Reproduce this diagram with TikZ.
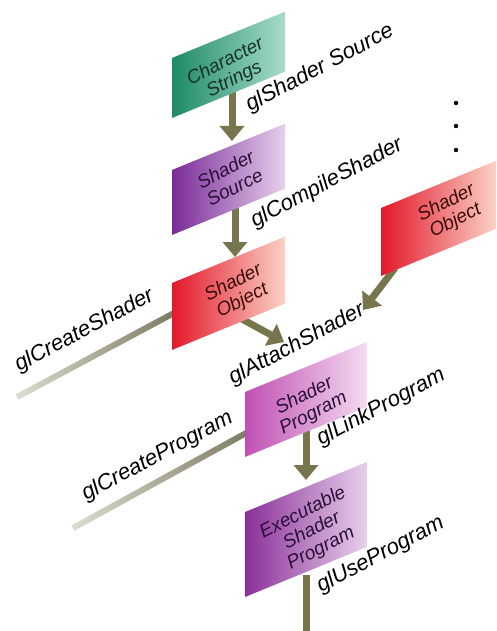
\documentclass[tikz,border=0pt]{standalone}
\usepackage{fontspec}
\setmainfont{Liberation Sans}
\usetikzlibrary{arrows.meta,calc}

\definecolor{flowolive}{HTML}{77754E}
\definecolor{roddark}{HTML}{7C7B62}
\definecolor{rodlight}{HTML}{DCDCD0}
\definecolor{greenL}{HTML}{1D8A68}
\definecolor{greenM}{HTML}{36A07E}
\definecolor{greenR}{HTML}{A8DCC8}
\definecolor{srcL}{HTML}{7A2A98}
\definecolor{srcM}{HTML}{A866BB}
\definecolor{srcR}{HTML}{E6D0EC}
\definecolor{objL}{HTML}{E3182A}
\definecolor{objM}{HTML}{EF6A5E}
\definecolor{objR}{HTML}{FBD2C6}
\definecolor{progL}{HTML}{C050B4}
\definecolor{progM}{HTML}{D890CC}
\definecolor{progR}{HTML}{F4DCF0}
\definecolor{exeL}{HTML}{8A3098}
\definecolor{exeM}{HTML}{B070BC}
\definecolor{exeR}{HTML}{E8D0EC}
\definecolor{txtgreen}{HTML}{16322A}
\definecolor{txtpurple}{HTML}{2A1038}
\definecolor{txtred}{HTML}{3A0C0C}

% skewed panel: left x, top-left y, width, height, shading style
\newcommand\skewpanel[5]{%
  \shade[#5] (#1,#2) -- ++(#3,{-0.41*#3}) -- ++(0,#4) -- ++(-#3,{0.41*#3}) -- cycle;}
% shaded rod between two named points
\newcommand\rod[2]{%
  \shade[left color=rodlight, right color=roddark]
    ($(#1)!3pt!90:(#2)$) -- ($(#2)!3pt!-90:(#1)$) -- ($(#2)!3pt!90:(#1)$) -- ($(#1)!3pt!-90:(#2)$) -- cycle;}

\begin{document}
\begin{tikzpicture}[x=1pt,y=-1pt,
  callname/.style={font=\itshape\fontsize{22}{24}\selectfont, anchor=base west, rotate=28, inner sep=0pt},
  ptext/.style={font=\itshape\fontsize{19}{20}\selectfont, align=center, rotate=27, inner sep=0pt},
  flow/.style={draw=flowolive, line width=7pt, -{Triangle[width=24pt,length=15pt]}},
  flowend/.style={draw=flowolive, line width=7pt},
  greenpanel/.style={left color=greenL, middle color=greenM, right color=greenR},
  srcpanel/.style={left color=srcL, middle color=srcM, right color=srcR},
  objpanel/.style={left color=objL, middle color=objM, right color=objR},
  progpanel/.style={left color=progL, middle color=progM, right color=progR},
  exepanel/.style={left color=exeL, middle color=exeM, right color=exeR},
]
\useasboundingbox (0,0) rectangle (496,631);

% connector end points
\coordinate (cs-out) at (232,92);
\coordinate (ss-in) at (232,141);
\coordinate (ss-out) at (235,205);
\coordinate (so-in) at (235,257);
\coordinate (so-out) at (240,318);
\coordinate (sp-in1) at (284,342);
\coordinate (so2-out) at (395,268);
\coordinate (sp-in2) at (363,310);
\coordinate (sp-out) at (306,428);
\coordinate (ex-in) at (306,480);
\coordinate (ex-out) at (306,575);
\coordinate (use-end) at (306,635);
\coordinate (cshader-end) at (17,397);
\coordinate (so-left) at (174,313);
\coordinate (cprog-end) at (73,528);
\coordinate (sp-left) at (248,432);

% rods and flow arrows, behind the panels
\rod{cshader-end}{so-left}
\rod{cprog-end}{sp-left}
\draw[flow] (cs-out) -- (ss-in);
\draw[flow] (ss-out) -- (so-in);
\draw[flow] (so-out) -- (sp-in1);
\draw[flow] (so2-out) -- (sp-in2);
\draw[flow] (sp-out) -- (ex-in);
\draw[flowend] (ex-out) -- (use-end);

% panels
\skewpanel{172}{58}{113}{60}{greenpanel}
\skewpanel{172}{170}{113}{65}{srcpanel}
\skewpanel{172}{283}{113}{67}{objpanel}
\skewpanel{381}{208}{115}{68}{objpanel}
\skewpanel{245}{392}{122}{65}{progpanel}
\skewpanel{245}{512}{122}{85}{exepanel}

% panel texts
\node[ptext, text=txtgreen] (cs) at (230,71) {Character\\Strings};
\node[ptext, text=txtpurple] (ss) at (230,178) {Shader\\Source};
\node[ptext, text=txtred] (so) at (238,292) {Shader\\Object};
\node[ptext, text=txtred] (so2) at (451,212) {Shader\\Object};
\node[ptext, text=txtpurple] (sp) at (309,405) {Shader\\Program};
\node[ptext, text=txtpurple] (ex) at (312,531) {Executable\\Shader\\Program};

% call names
\node[callname] (l1) at (250,112) {glShader Source};
\node[callname] (l2) at (255,228) {glCompileShader};
\node[callname] (l3) at (19,372) {glCreateShader};
\node[callname] (l4) at (233,385) {glAttachShader};
\node[callname] (l5) at (86,501) {glCreateProgram};
\node[callname] (l6) at (321,446) {glLinkProgram};
\node[callname] (l7) at (321,593) {glUseProgram};

% continuation dots
\foreach \yy [count=\i] in {103,126,150}
  \fill (456,\yy) circle (2.2) coordinate (dot\i);
\end{tikzpicture}
\end{document}
